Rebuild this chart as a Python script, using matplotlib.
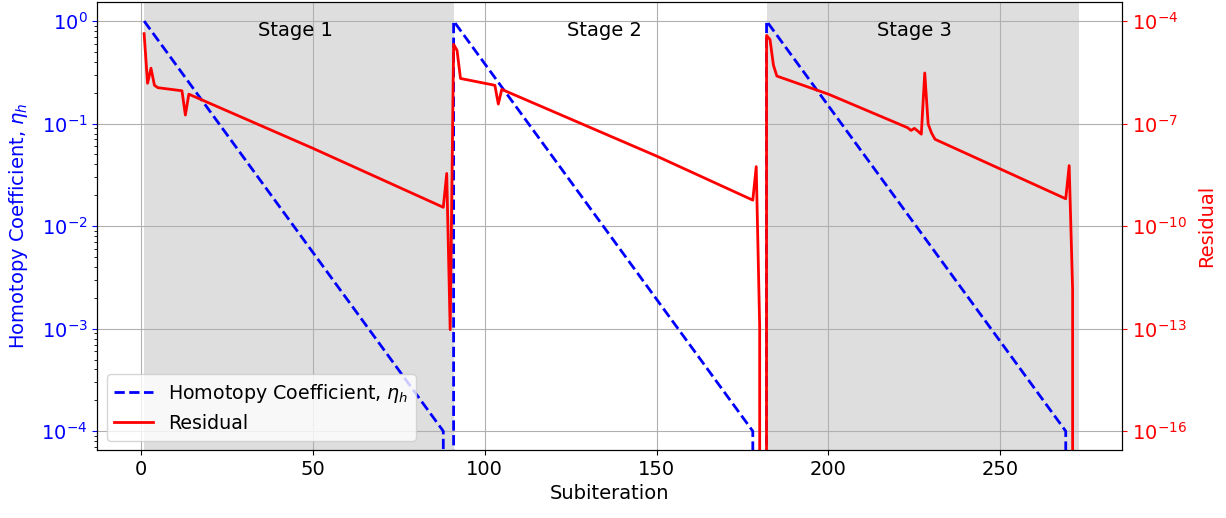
import numpy as np
import matplotlib
matplotlib.use("Agg")
import matplotlib.pyplot as plt
from matplotlib.ticker import NullLocator, FixedLocator

# Homotopy coefficient (vertices of the piecewise-straight curve on log scale)
eta_x = [1, 88, 89, 90, 91, 178, 179, 180, 181, 182, 269, 270, 271, 272]
eta_y = [1.0, 1e-4, 0, 0, 1.0, 1e-4, 0, 0, 0, 1.0, 1e-4, 0, 0, 0]

# Residual (vertices, log10 values)
res_x = [1, 2, 3, 4, 5, 12, 13, 14, 50, 88, 89, 90,
         91, 92, 93, 103, 104, 105, 150, 178, 179, 180, 181,
         182, 183, 184, 185, 200, 223, 224, 225, 226, 227, 228, 229, 230, 231, 269, 270, 271, 272]
res_log = [-4.37, -5.82, -5.38, -5.88, -5.95, -6.04, -6.75, -6.14, -7.72, -9.45, -8.46, -13.03,
           -4.68, -4.86, -5.68, -5.88, -6.43, -6.00, -7.95, -9.24, -8.26, -12.94, None,
           -4.42, -4.54, -5.29, -5.61, -6.14, -7.12, -7.20, -7.14, -7.22, -7.31, -5.52, -7.02, -7.28, -7.46, -9.20, -8.23, -11.86, None]
res_y = [0.0 if v is None else 10.0 ** v for v in res_log]

res_ticks = [1e-4, 1e-7, 1e-10, 1e-13, 1e-16]

stage_labels = ["Stage 1", "Stage 2", "Stage 3"]
stage_text_x = [45, 135, 225]
shaded_spans = [(1, 91), (182, 273)]

plt.rcParams['font.family'] = ['DejaVu Sans']
plt.rcParams['font.size'] = 14

fig = plt.figure(figsize=(12.26, 5.18), dpi=100)
ax = fig.add_axes([0.0794, 0.131, 0.915 - 0.0794, 0.996 - 0.131])
ax2 = ax.twinx()

for a, b in shaded_spans:
    ax.axvspan(a, b, color='#dedede', zorder=0.5, lw=0)

l1, = ax.plot(eta_x, eta_y, color='blue', ls='--', lw=2.0, label='Homotopy Coefficient, $\\eta_h$')
l2, = ax2.plot(res_x, res_y, color='red', lw=2.0, label='Residual')

ax.set_yscale('log')
ax2.set_yscale('log')
lo, hi = -4.185, 0.185
ax.set_ylim(10 ** lo, 10 ** hi)
ax2.set_ylim(10 ** (3 * lo - 4), 10 ** (3 * hi - 4))
ax.set_xlim(-12.6, 285.3)

ax.grid(True, color='#b0b0b0', lw=0.8)
ax2.yaxis.set_major_locator(FixedLocator(res_ticks))
ax2.yaxis.set_minor_locator(NullLocator())

for lab, xp in zip(stage_labels, stage_text_x):
    ax.text(xp, 0.8, lab, ha='center', va='center', fontsize=14)

ax.set_xlabel('Subiteration')
ax.set_ylabel('Homotopy Coefficient, $\\eta_h$', color='blue', labelpad=8)
ax2.set_ylabel('Residual', color='red', labelpad=8)
ax.tick_params(axis='y', which='major', colors='blue')
ax2.tick_params(axis='y', which='major', colors='red')

ax2.legend([l1, l2], [l1.get_label(), l2.get_label()], loc='lower left', fontsize=13.7)

fig.savefig('out.png', dpi=100)
